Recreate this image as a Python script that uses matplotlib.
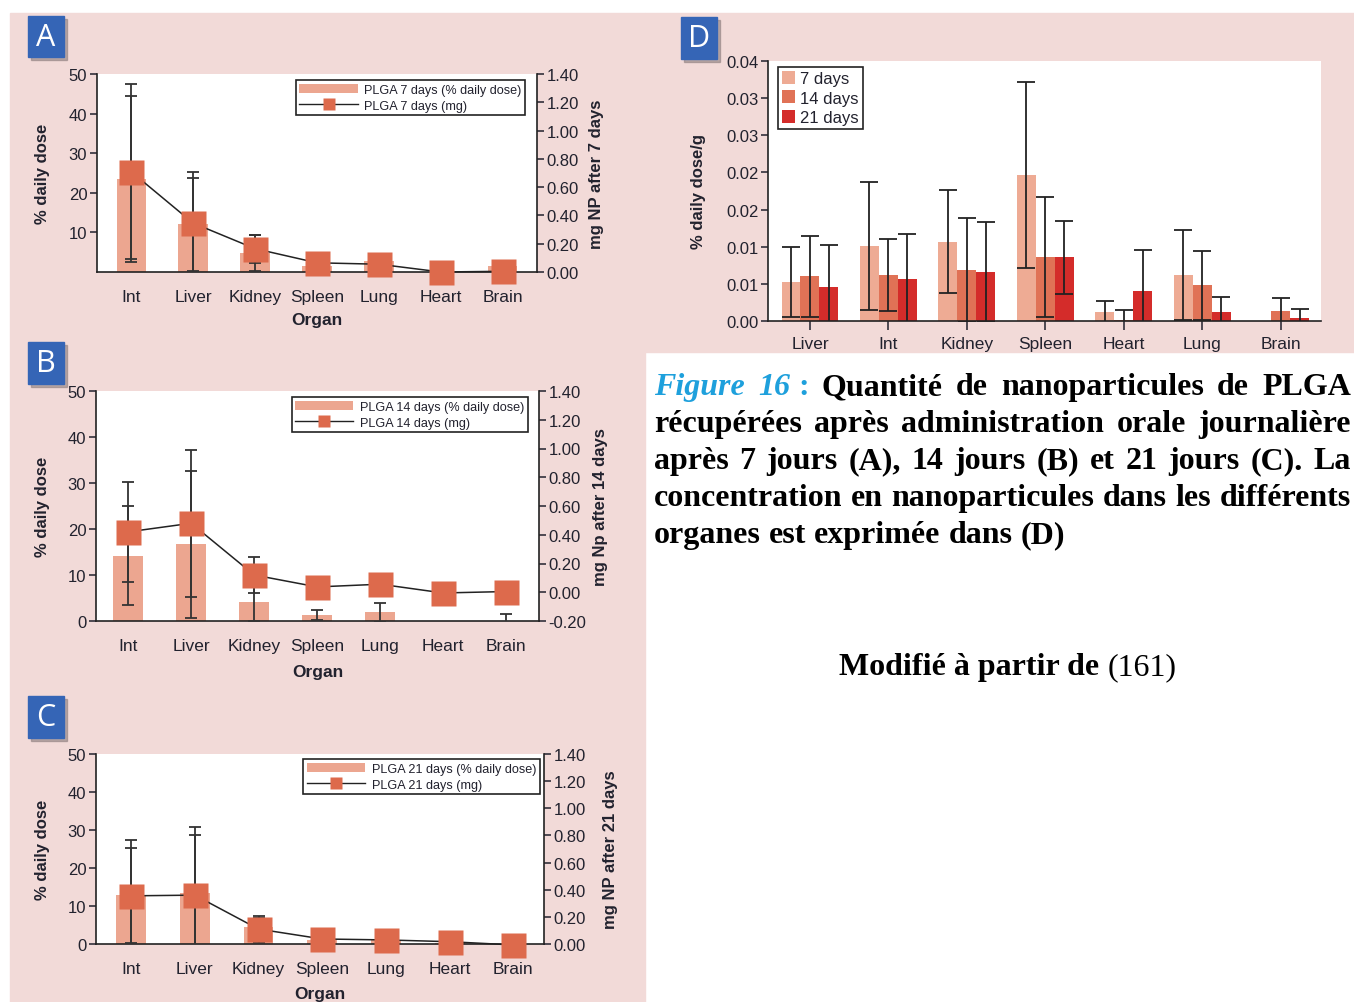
import matplotlib
matplotlib.use("Agg")
import matplotlib.pyplot as plt
import numpy as np
from matplotlib.patches import Rectangle, Patch
from matplotlib.lines import Line2D

# ---------------- data ----------------
organs_abc = ["Int", "Liver", "Kidney", "Spleen", "Lung", "Heart", "Brain"]

a_pct = [23.5, 12.0, 4.8, 1.5, 2.8, 0.0, 1.5]
a_pct_err = [21.0, 11.7, 4.5, 0.0, 0.0, 0.0, 0.0]
a_mg = [0.71, 0.346, 0.165, 0.065, 0.055, 0.0, 0.005]
a_mg_err = [0.62, 0.36, 0.10, 0.0, 0.0, 0.0, 0.0]

b_pct = [14.2, 16.7, 4.1, 1.3, 1.9, 0.0, 0.1]
b_pct_err = [10.7, 16.0, 4.0, 1.1, 2.1, 0.0, 1.4]
b_mg = [0.42, 0.48, 0.12, 0.037, 0.056, -0.005, 0.005]
b_mg_err = [0.35, 0.51, 0.125, 0.0, 0.0, 0.0, 0.0]

c_pct = [12.85, 13.3, 4.5, 1.0, 1.0, 0.3, 0.0]
c_pct_err = [12.5, 15.3, 2.4, 0.0, 0.0, 0.0, 0.0]
c_mg = [0.355, 0.36, 0.11, 0.037, 0.03, 0.017, -0.007]
c_mg_err = [0.41, 0.50, 0.10, 0.0, 0.0, 0.0, 0.0]

organs_d = ["Liver", "Int", "Kidney", "Spleen", "Heart", "Lung", "Brain"]
d_series = ["7 days", "14 days", "21 days"]
d_7 = [0.0052, 0.0101, 0.0107, 0.0197, 0.0012, 0.0062, 0.0]
d_7_err = [0.0047, 0.0086, 0.0069, 0.0125, 0.0015, 0.0060, 0.0]
d_14 = [0.0060, 0.0062, 0.0069, 0.0086, 0.0001, 0.0048, 0.00135]
d_14_err = [0.0054, 0.0048, 0.0070, 0.0081, 0.0014, 0.0046, 0.0018]
d_21 = [0.0046, 0.0057, 0.0066, 0.0086, 0.0040, 0.0012, 0.00045]
d_21_err = [0.0056, 0.0060, 0.0067, 0.0049, 0.0056, 0.0020, 0.0012]
d_yticks = [0.0, 0.005, 0.010, 0.015, 0.020, 0.025, 0.030, 0.035]
d_yticklabels = ["0.00", "0.01", "0.01", "0.02", "0.02", "0.03", "0.03", "0.04"]

mg_ticks_ac = [0.0, 0.2, 0.4, 0.6, 0.8, 1.0, 1.2, 1.4]
mg_ticks_b = [-0.2, 0.0, 0.2, 0.4, 0.6, 0.8, 1.0, 1.2, 1.4]

caption_lines = [
    [[("Figure", "ci")], [("16", "ci"), (":", "c")], [("Quantité", "b")], [("de", "b")],
     [("nanoparticules", "b")], [("de", "b")], [("PLGA", "b")]],
    "récupérées après administration orale journalière",
    "après 7 jours (A), 14 jours (B) et 21 jours (C). La",
    "concentration en nanoparticules dans les différents",
    "organes est exprimée dans (D)",
]
source_bold = "Modifié à partir de"
source_ref = "(161)"

# ---------------- style ----------------
W, H = 1354, 1003
PINK = "#f2dad8"
BAR_C = "#eca690"
SQ_C = "#dd6a4c"
ERR_C = "#333333"
TXT_C = "#22222e"
D_COLORS = ["#eeab94", "#e07256", "#d42c2a"]
BLUE = "#3565b6"

plt.rcParams["font.family"] = ["Liberation Sans", "DejaVu Sans"]

fig = plt.figure(figsize=(W / 100, H / 100), dpi=100)
fig.patch.set_facecolor("white")

# pink background regions
fig.add_artist(Rectangle((10 / W, 0), (645 - 10) / W, (H - 14) / H,
                         transform=fig.transFigure, color=PINK, zorder=-10))
fig.add_artist(Rectangle((645 / W, 1 - 353 / H), (W - 645) / W, (353 - 14) / H,
                         transform=fig.transFigure, color=PINK, zorder=-10))


def px_axes(l, t, r, b):
    return fig.add_axes([l / W, 1 - b / H, (r - l) / W, (b - t) / H])


def label_box(x0, y0, x1, y1, letter):
    fig.add_artist(Rectangle(((x0 + 3) / W, 1 - (y1 + 3) / H), (x1 - x0) / W, (y1 - y0) / H,
                             transform=fig.transFigure, color="#8f8080", alpha=0.6, zorder=5))
    fig.add_artist(Rectangle((x0 / W, 1 - y1 / H), (x1 - x0) / W, (y1 - y0) / H,
                             transform=fig.transFigure, color=BLUE, zorder=6))
    fig.text((x0 + x1) / 2 / W, 1 - (y0 + y1) / 2 / H, letter, color="white",
             fontsize=22, ha="center", va="center", family="Open Sans", zorder=7)


def dose_panel(rect, xlim, pct, pct_err, mg, mg_err, y1ticks, y2lim, y2ticks,
               y2label, leg_labels, leg_anchor, ylab_x, y2lab_x, xlab_y):
    l, t, r, b = rect
    ax = px_axes(*rect)
    ax.set_facecolor("white")
    x = np.arange(len(organs_abc))
    ax.bar(x, pct, width=0.47, color=BAR_C, zorder=2)
    for xi, v, e in zip(x, pct, pct_err):
        if e > 0:
            ax.errorbar(xi, v, yerr=e, fmt="none", ecolor=ERR_C, elinewidth=1.3,
                        capsize=4.5, capthick=1.3, zorder=3)
    ax.set_xlim(*xlim)
    ax.set_ylim(0, 50)
    ax.set_yticks(y1ticks)
    ax.set_xticks(x)
    ax.set_xticklabels(organs_abc)
    for s in ("top", "right"):
        ax.spines[s].set_visible(False)
    for s in ("left", "bottom"):
        ax.spines[s].set_linewidth(1.2)
        ax.spines[s].set_color("#222222")
    ax.tick_params(axis="y", direction="out", length=5, width=1.1, pad=2,
                   labelsize=12, colors=TXT_C)
    ax.tick_params(axis="x", length=0, pad=12.5, labelsize=12.5, colors=TXT_C)
    ax.set_ylabel("% daily dose", fontsize=12, fontweight="bold", color=TXT_C, va="center")
    ax.yaxis.set_label_coords((ylab_x - l) / (r - l), 0.5)
    ax.set_xlabel("Organ", fontsize=12.5, fontweight="bold", color=TXT_C, va="center")
    ax.xaxis.set_label_coords(0.5, (b - xlab_y) / (b - t))

    ax2 = ax.twinx()
    ax2.set_ylim(*y2lim)
    ax2.set_yticks(y2ticks)
    ax2.set_yticklabels(["%.2f" % v for v in y2ticks])
    for xi, v, e in zip(x, mg, mg_err):
        if e > 0:
            ax2.errorbar(xi, v, yerr=e, fmt="none", ecolor=ERR_C, elinewidth=1.3,
                         capsize=4.5, capthick=1.3, zorder=1)
    ax2.plot(x, mg, color="#222222", lw=1.1, zorder=2, clip_on=False)
    ax2.plot(x, mg, ls="none", marker="s", ms=18, mfc=SQ_C, mec="none", zorder=3,
             clip_on=False)
    for s in ("top", "left", "bottom"):
        ax2.spines[s].set_visible(False)
    ax2.spines["right"].set_linewidth(1.2)
    ax2.spines["right"].set_color("#222222")
    ax2.tick_params(axis="y", direction="out", length=5, width=1.1, pad=2,
                    labelsize=12, colors=TXT_C)
    ax2.set_ylabel(y2label, fontsize=12, fontweight="bold", color=TXT_C, va="center")
    ax2.yaxis.set_label_coords((y2lab_x - l) / (r - l), 0.5)

    handles = [Patch(facecolor=BAR_C, edgecolor="none"),
               Line2D([0], [0], color="#222222", lw=1.0, marker="s", ms=9,
                      mfc=SQ_C, mec="none")]
    leg = ax2.legend(handles, leg_labels, loc="upper right", bbox_to_anchor=leg_anchor,
                     borderaxespad=0, fontsize=9.1, handlelength=4.6, handletextpad=0.5,
                     borderpad=0.3, labelspacing=0.3, fancybox=False, framealpha=1,
                     edgecolor="#222222")
    leg.get_frame().set_linewidth(1.2)
    for txt in leg.get_texts():
        txt.set_color(TXT_C)
    return ax, ax2


# Panel A
dose_panel((97, 75, 537, 273), (-0.55, 6.55), a_pct, a_pct_err, a_mg, a_mg_err,
           [10, 20, 30, 40, 50], (0, 1.4), mg_ticks_ac, "mg NP after 7 days",
           ["PLGA 7 days (% daily dose)", "PLGA 7 days (mg)"], (0.973, 0.97),
           42, 597, 321)
# Panel B
dose_panel((96, 392, 539, 622), (-0.51, 6.52), b_pct, b_pct_err, b_mg, b_mg_err,
           [0, 10, 20, 30, 40, 50], (-0.2, 1.4), mg_ticks_b, "mg Np after 14 days",
           ["PLGA 14 days (% daily dose)", "PLGA 14 days (mg)"], (0.975, 0.974),
           42, 600, 673)
# Panel C
dose_panel((96, 755, 544, 945), (-0.55, 6.48), c_pct, c_pct_err, c_mg, c_mg_err,
           [0, 10, 20, 30, 40, 50], (0, 1.4), mg_ticks_ac, "mg NP after 21 days",
           ["PLGA 21 days (% daily dose)", "PLGA 21 days (mg)"], (0.991, 0.974),
           42, 610, 995)

# Panel D
axd = px_axes(768, 62, 1321, 322)
axd.set_facecolor("white")
xd = np.arange(len(organs_d))
bw = 0.242
for k, (vals, errs) in enumerate([(d_7, d_7_err), (d_14, d_14_err), (d_21, d_21_err)]):
    pos = xd + (k - 1) * bw
    axd.bar(pos, vals, width=bw, color=D_COLORS[k], label=d_series[k], zorder=2)
    for p, v, e in zip(pos, vals, errs):
        if e > 0:
            axd.errorbar(p, v, yerr=e, fmt="none", ecolor="#222222", elinewidth=1.3,
                         capsize=6.5, capthick=1.3, zorder=3)
axd.set_xlim(-0.535, 6.51)
axd.set_ylim(0, 0.035)
axd.set_yticks(d_yticks)
axd.set_yticklabels(d_yticklabels)
axd.set_xticks(xd)
axd.set_xticklabels(organs_d)
for s in ("top", "right"):
    axd.spines[s].set_visible(False)
for s in ("left", "bottom"):
    axd.spines[s].set_linewidth(1.2)
    axd.spines[s].set_color("#222222")
axd.tick_params(axis="y", direction="out", length=5, width=1.1, pad=2, labelsize=12,
                colors=TXT_C)
axd.tick_params(axis="x", direction="out", length=6.5, width=1.1, pad=4.5,
                labelsize=12.5, colors=TXT_C)
axd.set_ylabel("% daily dose/g", fontsize=12, fontweight="bold", color=TXT_C, va="center")
axd.yaxis.set_label_coords((698 - 768) / (1321 - 768), 0.5)
legd = axd.legend(loc="upper left", bbox_to_anchor=(0.018, 0.977), borderaxespad=0,
                  fontsize=12, handlelength=0.8, handleheight=0.8, handletextpad=0.3,
                  borderpad=0.25, labelspacing=0.25, fancybox=False, framealpha=1,
                  edgecolor="#222222")
legd.get_frame().set_linewidth(1.2)
for txt in legd.get_texts():
    txt.set_color(TXT_C)

# Label boxes
label_box(28, 17, 64, 58, "A")
label_box(28, 343, 64, 385, "B")
label_box(28, 697, 64, 739, "C")
label_box(681, 18, 717, 60, "D")

# ---------------- caption ----------------
renderer = fig.canvas.get_renderer()
CAP_FS = 23
CYAN = "#1ea0dc"
STY = {
    "b": dict(family="Liberation Serif", weight="bold", color="black"),
    "ci": dict(family="Liberation Serif", weight="bold", style="italic", color=CYAN),
    "c": dict(family="Liberation Serif", weight="bold", color=CYAN),
    "r": dict(family="Liberation Serif", weight="normal", color="black"),
}
INNER_GAP = 8


def run_w(text, st):
    t = fig.text(0, 0, text, fontsize=CAP_FS, **STY[st])
    w = t.get_window_extent(renderer).width
    t.remove()
    return w


def word_w(word):
    return sum(run_w(tx, st) for tx, st in word) + INNER_GAP * (len(word) - 1)


def draw_word(word, x, base):
    for tx, st in word:
        fig.text(x / W, 1 - base / H, tx, fontsize=CAP_FS, ha="left", va="baseline", **STY[st])
        x += run_w(tx, st) + INNER_GAP
    return x


LEFT, RIGHT = 654, 1351
space_w = run_w("a a", "b") - run_w("aa", "b")
bases = [395, 432, 469, 506, 543]
for i, line in enumerate(caption_lines):
    if isinstance(line, str):
        words = [[(w_, "b")] for w_ in line.split()]
    else:
        words = line
    widths = [word_w(w_) for w_ in words]
    if i < len(caption_lines) - 1:
        gap = max((RIGHT - LEFT - sum(widths)) / (len(words) - 1), space_w * 0.8)
    else:
        gap = space_w
    x = LEFT
    for w_, ww in zip(words, widths):
        draw_word(w_, x, bases[i])
        x += ww + gap

tot = run_w(source_bold, "b") + space_w + run_w(source_ref, "r")
x0 = 1008 - tot / 2
fig.text(x0 / W, 1 - 675 / H, source_bold, fontsize=CAP_FS, ha="left", va="baseline", **STY["b"])
fig.text((x0 + run_w(source_bold, "b") + space_w) / W, 1 - 675 / H, source_ref,
         fontsize=CAP_FS, ha="left", va="baseline", **STY["r"])

fig.savefig("out.png", dpi=100)
